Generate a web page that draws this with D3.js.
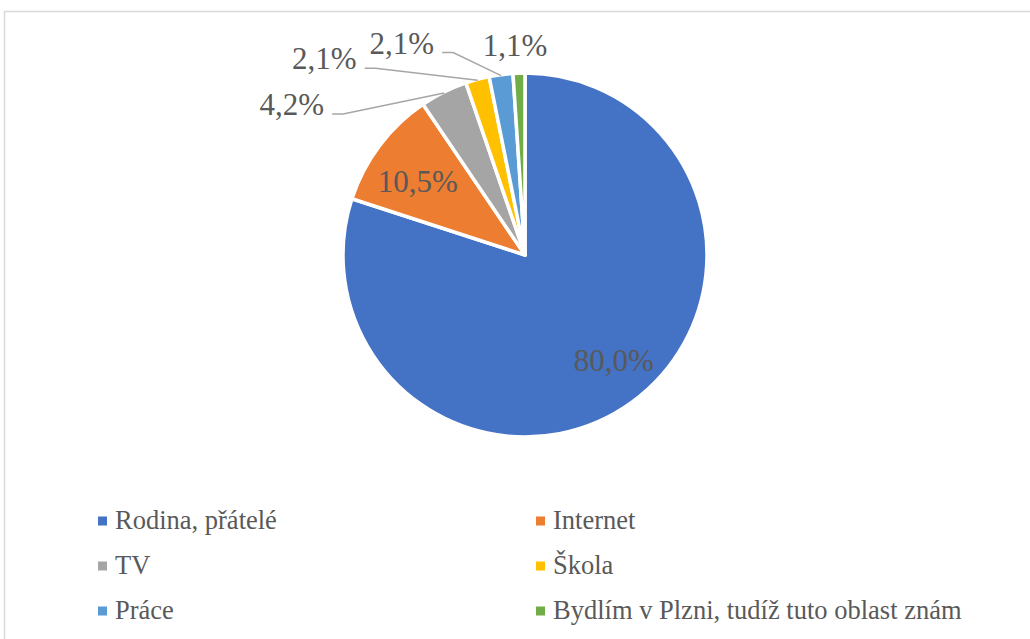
<!DOCTYPE html>
<html>
<head>
<meta charset="utf-8">
<script src="https://cdn.jsdelivr.net/npm/d3@7"></script>
</head>
<body style="margin:0;background:#fff">
<svg id="s" width="1030" height="639" font-family="Liberation Serif"></svg>
<script>
// ---- data ----
const categories = ["Rodina, přátelé", "Internet", "TV", "Škola", "Práce", "Bydlím v Plzni, tudíž tuto oblast znám"];
const counts = [76, 10, 4, 2, 2, 1];
const colors = ["#4472C4", "#ED7D31", "#A5A5A5", "#FFC000", "#5B9BD5", "#70AD47"];

// ---- layout ----
const W = 1030, H = 639;
const cx = 525, cy = 255, R = 182;
const TXT = "#595959";
const svg = d3.select("#s");

svg.append("rect").attr("x", 4.5).attr("y", 11.5).attr("width", W + 10).attr("height", H + 10)
  .attr("fill", "none").attr("stroke", "#d9d9d9").attr("stroke-width", 1.5);

const total = d3.sum(counts);
const fmt = v => (Math.round(v / total * 1000) / 10).toFixed(1).replace(".", ",") + "%";

const pie = d3.pie().sort(null).value(d => d)(counts);
const arc = d3.arc().innerRadius(0).outerRadius(R);

const g = svg.append("g").attr("transform", `translate(${cx},${cy})`);
g.selectAll("path.slice").data(pie).enter().append("path")
  .attr("class", "slice")
  .attr("d", arc)
  .attr("fill", (d, i) => colors[i])
  .attr("stroke", "#fff")
  .attr("stroke-width", 3.5)
  .attr("stroke-linejoin", "round");

const labelCfg = [
  { type: "in", rr: 0.70, dx: 14, dy: 3 },
  { type: "in", rr: 0.71, dx: -4, dy: 5 },
  { type: "out", ex: -101, ey: 21 },
  { type: "out", ex: -102, ey: -12 },
  { type: "out", ex: -48, ey: -23 },
  { type: "top", rr: 1.14 }
];
const FS = 31;

function addText(sel, x, y, anchor, size, t) {
  return sel.append("text").attr("x", x).attr("y", y).attr("text-anchor", anchor)
    .attr("font-family", "Liberation Serif").attr("font-size", size).attr("fill", TXT).text(t);
}

pie.forEach((d, i) => {
  const cfg = labelCfg[i];
  const a = (d.startAngle + d.endAngle) / 2;
  const txt = fmt(d.value);
  if (cfg.type === "in") {
    const x = Math.sin(a) * R * cfg.rr + cfg.dx;
    const y = -Math.cos(a) * R * cfg.rr + cfg.dy;
    addText(g, x, y + 10, "middle", FS, txt);
  } else if (cfg.type === "out") {
    const px = Math.sin(a) * (R - 1), py = -Math.cos(a) * (R - 1);
    const ex = px + cfg.ex, ey = py + cfg.ey;
    g.append("polyline")
      .attr("points", `${px},${py} ${ex},${ey} ${ex - 11},${ey}`)
      .attr("fill", "none").attr("stroke", "#a6a6a6").attr("stroke-width", 1.5);
    addText(g, ex - 19, ey + 1, "end", FS, txt);
  } else {
    const x = Math.sin(a) * R * cfg.rr - 3;
    const y = -Math.cos(a) * R * cfg.rr + 8;
    addText(g, x, y, "middle", FS, txt);
  }
});

const legX = [98, 536], legY0 = 521, legDY = 45;
const leg = svg.append("g");
categories.forEach((c, i) => {
  const col = i % 2, row = Math.floor(i / 2);
  const x = legX[col], y = legY0 + row * legDY;
  leg.append("rect").attr("x", x).attr("y", y - 4.5).attr("width", 9).attr("height", 9).attr("fill", colors[i]);
  addText(leg, x + 17, y + 8, "start", 26.5, c);
});
</script>
</body>
</html>
